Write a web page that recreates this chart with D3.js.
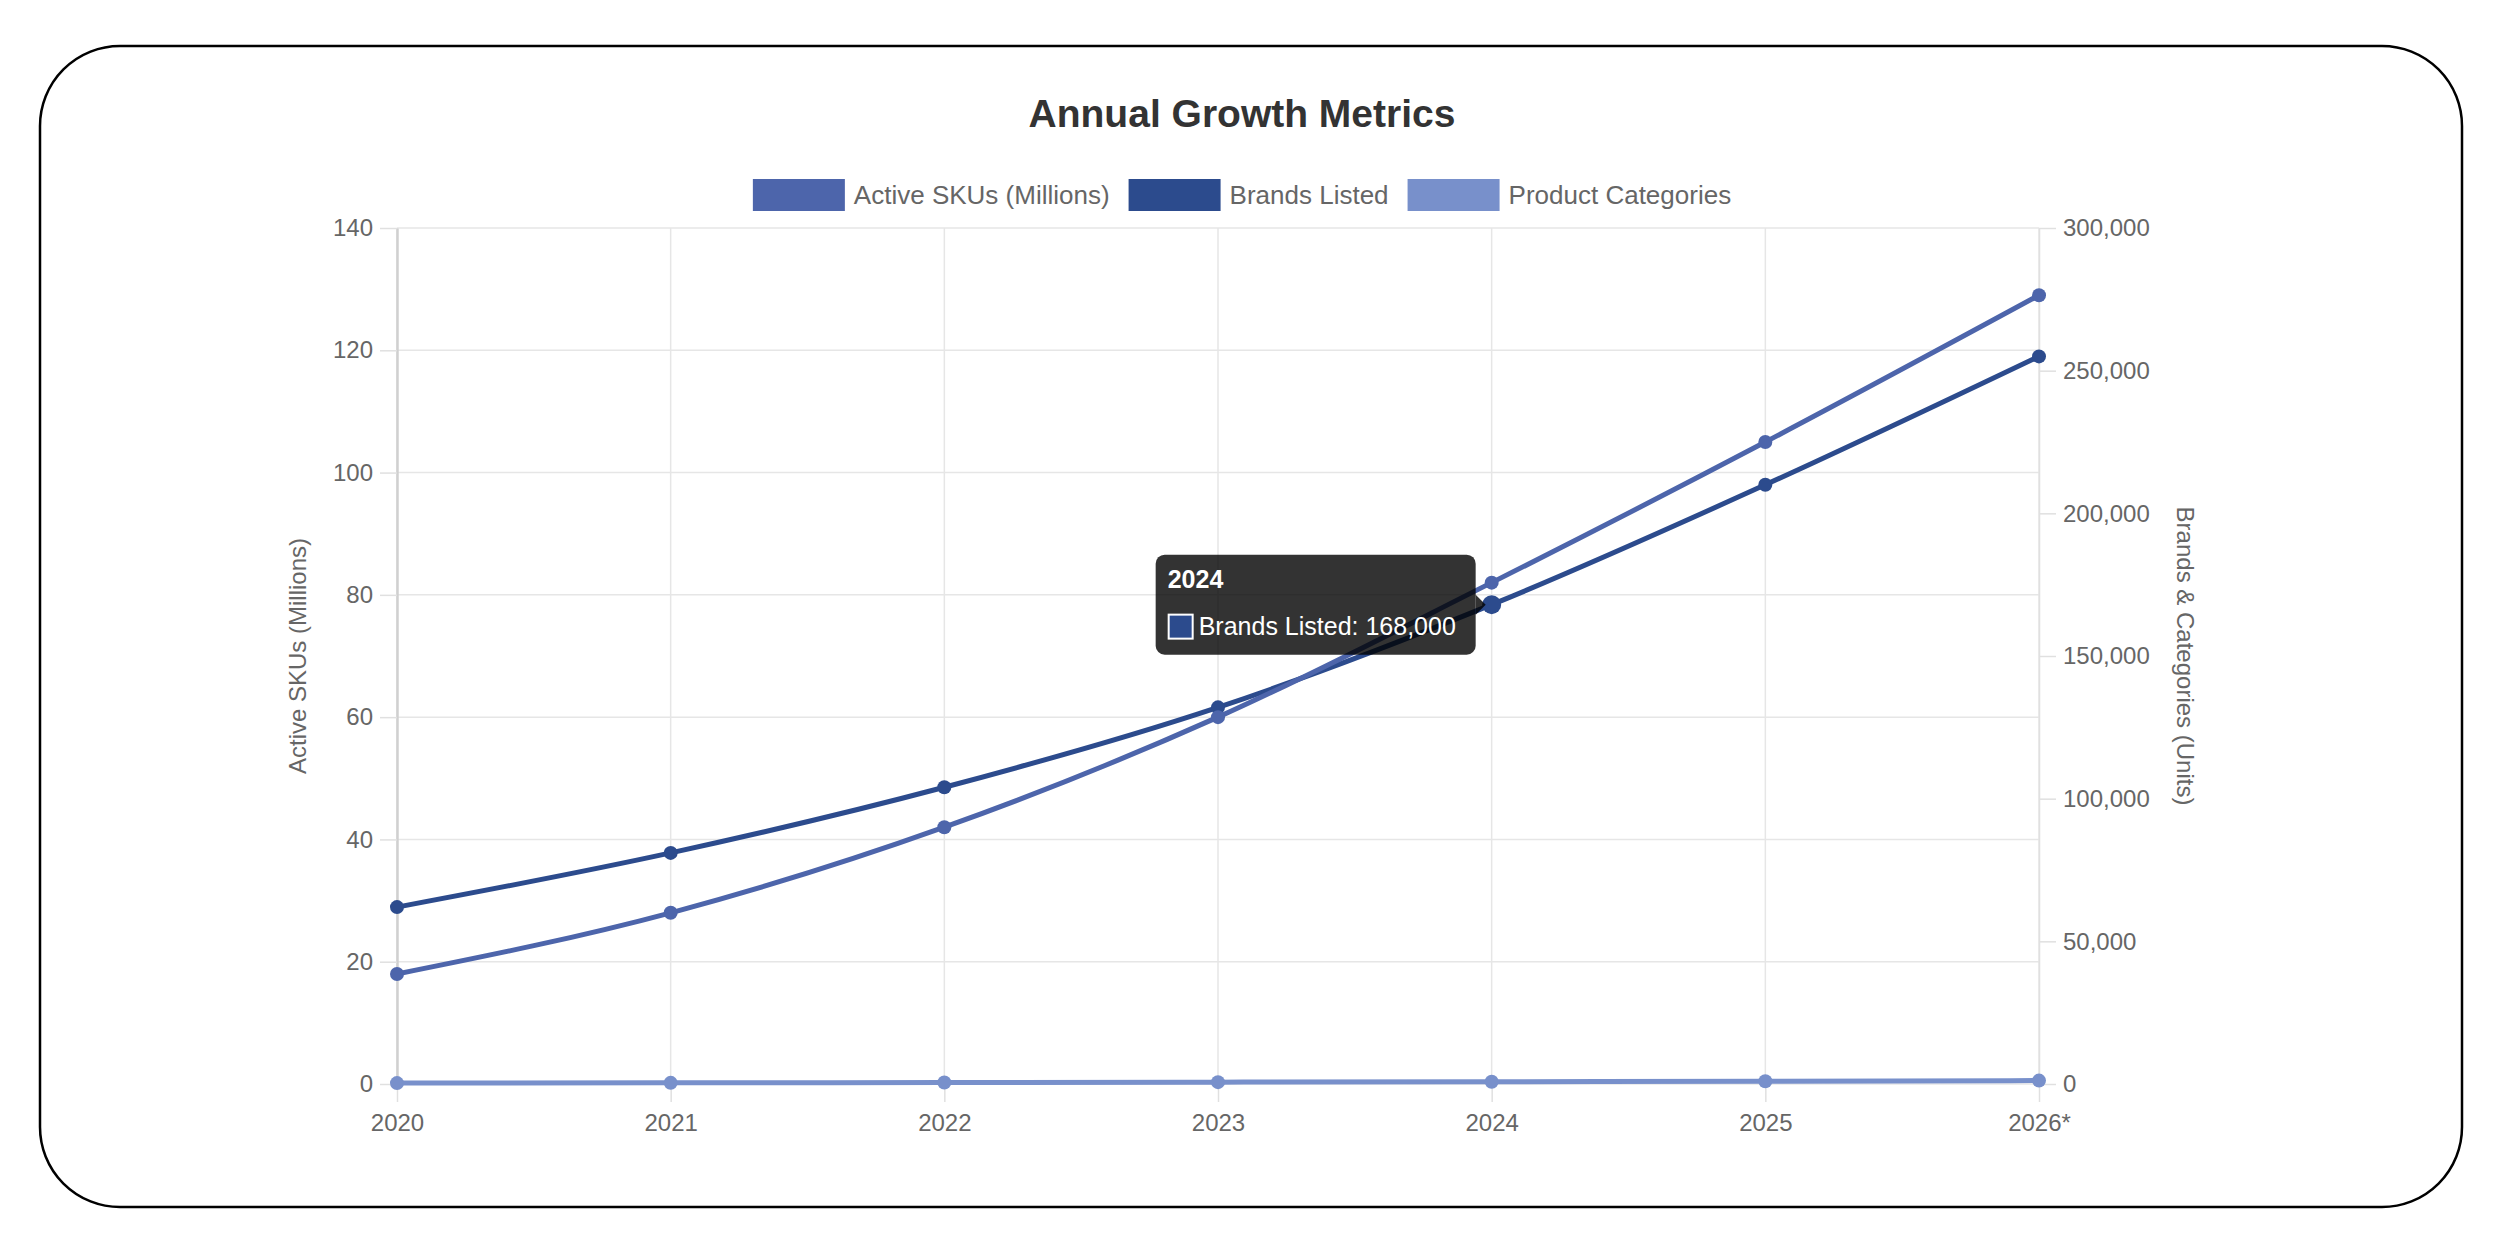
<!DOCTYPE html>
<html>
<head>
<meta charset="utf-8">
<script src="https://cdn.jsdelivr.net/npm/d3@7"></script>
<style>
  body { margin: 0; background: #fff; }
  svg { display: block; font-family: "Liberation Sans", Arial, Helvetica, sans-serif; }
</style>
</head>
<body>
<div id="chart"></div>
<script>
// data
const years = ["2020", "2021", "2022", "2023", "2024", "2025", "2026*"];
const activeSkus = [18, 28, 42, 60, 82, 105, 129];              // millions, left axis
const brandsListed = [62000, 81000, 104000, 132000, 168000, 210000, 255000]; // right axis
const productCategories = [320, 410, 520, 650, 800, 980, 1200];  // right axis
const seriesNames = ["Active SKUs (Millions)", "Brands Listed", "Product Categories"];
const seriesColors = ["#4d65ab", "#2c4b8d", "#7890cb"];
const hoverIndex = 4; // tooltip shown on 2024, Brands Listed

const W = 2497, H = 1240;
const plot = {left: 397, right: 2039, top: 228, bottom: 1084};
const cx = 1242;

const svg = d3.select("#chart").append("svg").attr("width", W).attr("height", H);

// card border
svg.append("rect")
  .attr("x", 40).attr("y", 46)
  .attr("width", 2422).attr("height", 1161)
  .attr("rx", 80).attr("ry", 80)
  .attr("fill", "#fff").attr("stroke", "#000").attr("stroke-width", 2.5);

// scales
var x = d3.scalePoint().domain(years).range([plot.left, plot.right]);
var yL = d3.scaleLinear().domain([0, 140]).range([plot.bottom, plot.top]);
var yR = d3.scaleLinear().domain([0, 300000]).range([plot.bottom, plot.top]);

// grid
var grid = svg.append("g").attr("class", "grid");
grid.selectAll(".hg").data(yL.ticks(7)).enter().append("line")
  .attr("x1", plot.left).attr("x2", plot.right)
  .attr("y1", d => yL(d)).attr("y2", d => yL(d))
  .attr("stroke", "#e6e6e6").attr("stroke-width", 1.5);
grid.selectAll(".vg").data(years).enter().append("line")
  .attr("x1", d => x(d)).attr("x2", d => x(d))
  .attr("y1", plot.top).attr("y2", plot.bottom)
  .attr("stroke", "#e6e6e6").attr("stroke-width", 1.5);

function styleAxis(g) {
  g.select(".domain").attr("stroke", "#d0d0d0").attr("stroke-width", 2.5);
  g.selectAll(".tick line").attr("stroke", "#e0e0e0").attr("stroke-width", 1.5);
  g.selectAll(".tick text").attr("fill", "#666").style("font-size", "24px");
}

// axes
svg.append("g").attr("transform", `translate(0,${plot.bottom})`)
  .call(d3.axisBottom(x).tickSizeInner(18).tickSizeOuter(0).tickPadding(12))
  .call(styleAxis)
  .call(g => g.select(".domain").remove());

svg.append("g").attr("transform", `translate(${plot.left},0)`)
  .call(d3.axisLeft(yL).ticks(7).tickSizeInner(17).tickSizeOuter(0).tickPadding(7))
  .call(styleAxis);

svg.append("g").attr("transform", `translate(${plot.right},0)`)
  .call(d3.axisRight(yR).ticks(6).tickFormat(d3.format(",")).tickSizeInner(17).tickSizeOuter(0).tickPadding(7))
  .call(styleAxis)
  .call(g => g.select(".domain").attr("stroke", "#e0e0e0").attr("stroke-width", 1.5));

// axis titles
svg.append("text")
  .attr("transform", `translate(298,${(plot.top + plot.bottom) / 2}) rotate(-90)`)
  .attr("text-anchor", "middle").attr("dy", "0.35em")
  .attr("fill", "#666").style("font-size", "24px")
  .text("Active SKUs (Millions)");
svg.append("text")
  .attr("transform", `translate(2185,${(plot.top + plot.bottom) / 2}) rotate(90)`)
  .attr("text-anchor", "middle").attr("dy", "0.35em")
  .attr("fill", "#666").style("font-size", "24px")
  .text("Brands & Categories (Units)");

// lines
var series = [
  {name: seriesNames[0], values: activeSkus, y: yL, color: seriesColors[0]},
  {name: seriesNames[1], values: brandsListed, y: yR, color: seriesColors[1]},
  {name: seriesNames[2], values: productCategories, y: yR, color: seriesColors[2]}
];

// draw last dataset first so the first ends on top
series.slice().reverse().forEach(s => {
  var line = d3.line()
    .x((d, i) => x(years[i]))
    .y(d => s.y(d))
    .curve(d3.curveMonotoneX);
  var g = svg.append("g");
  g.append("path")
    .attr("d", line(s.values))
    .attr("fill", "none").attr("stroke", s.color)
    .attr("stroke-width", 5).attr("stroke-linejoin", "round");
  g.selectAll("circle").data(s.values).enter().append("circle")
    .attr("cx", (d, i) => x(years[i]))
    .attr("cy", d => s.y(d))
    .attr("r", (d, i) => (s.name === "Brands Listed" && i === hoverIndex) ? 9.5 : 7)
    .attr("fill", s.color);
});

// title
svg.append("text")
  .attr("x", cx).attr("y", 127)
  .attr("text-anchor", "middle")
  .attr("fill", "#333").style("font-size", "39px").style("font-weight", "bold")
  .text("Annual Growth Metrics");

// legend
var legend = svg.append("g");
var items = legend.selectAll("g").data(series).enter().append("g");
items.append("rect")
  .attr("width", 92).attr("height", 32).attr("y", 179)
  .attr("fill", d => d.color);
items.append("text")
  .attr("y", 204).attr("x", 101)
  .attr("fill", "#666").style("font-size", "26px")
  .text(d => d.name);
var widths = [];
items.each(function() { widths.push(101 + this.querySelector("text").getComputedTextLength()); });
var gap = 19;
var total = d3.sum(widths) + gap * (widths.length - 1);
var pos = cx - total / 2;
items.attr("transform", (d, i) => {
  var t = `translate(${pos},0)`;
  pos += widths[i] + gap;
  return t;
});

// tooltip
var hx = x(years[hoverIndex]), hy = yR(brandsListed[hoverIndex]);
var tw = 320, th = 100;
var tx = hx - 16 - tw, ty = hy - th / 2;
var tip = svg.append("g").attr("transform", `translate(${tx},${ty})`);
tip.append("rect")
  .attr("width", tw).attr("height", th).attr("rx", 9)
  .attr("fill", "rgba(0,0,0,0.8)");
tip.append("path")
  .attr("d", `M${tw},${th / 2 - 10} L${tw + 10},${th / 2} L${tw},${th / 2 + 10} Z`)
  .attr("fill", "rgba(0,0,0,0.8)");
tip.append("text")
  .attr("x", 12).attr("y", 33)
  .attr("fill", "#fff").style("font-size", "25px").style("font-weight", "bold")
  .text(years[hoverIndex]);
tip.append("rect")
  .attr("x", 13).attr("y", 60).attr("width", 24).attr("height", 24)
  .attr("fill", seriesColors[1]).attr("stroke", "#fff").attr("stroke-width", 2);
tip.append("text")
  .attr("x", 43).attr("y", 80)
  .attr("fill", "#fff").style("font-size", "25px")
  .text("Brands Listed: " + d3.format(",")(brandsListed[hoverIndex]));
</script>
</body>
</html>
